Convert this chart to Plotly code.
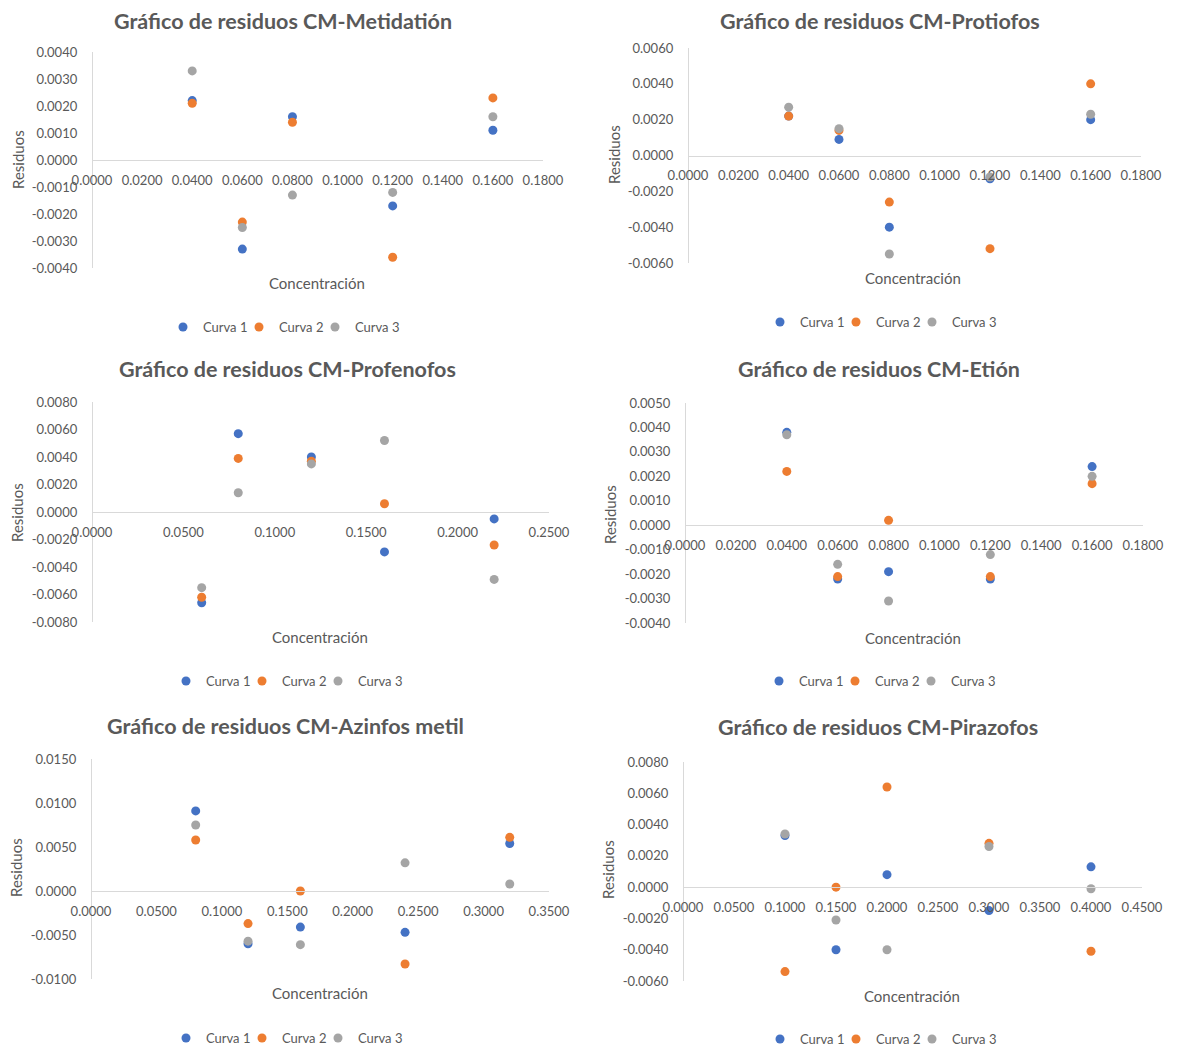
import plotly.graph_objects as go

W, H = 1178, 1048
PAGE_PAD = 8  # browser body margin in front of the plot div

BLUE = "#4472C4"
ORANGE = "#ED7D31"
GRAY = "#A5A5A5"
TXT = "#595959"
LINE = "#D9D9D9"
FONT = "Lato"

# --- data ------------------------------------------------------------------
METID_X = [0.04, 0.06, 0.08, 0.12, 0.16]
METID_C1 = [0.0022, -0.0033, 0.0016, -0.0017, 0.0011]
METID_C2 = [0.0021, -0.0023, 0.0014, -0.0036, 0.0023]
METID_C3 = [0.0033, -0.0025, -0.0013, -0.0012, 0.0016]
METID_XT = [0.0, 0.02, 0.04, 0.06, 0.08, 0.10, 0.12, 0.14, 0.16, 0.18]
METID_YT = [-0.004, -0.003, -0.002, -0.001, 0.0, 0.001, 0.002, 0.003, 0.004]

PROTI_X = [0.04, 0.06, 0.08, 0.12, 0.16]
PROTI_C1 = [0.0022, 0.0009, -0.0040, -0.0013, 0.0020]
PROTI_C2 = [0.0022, 0.0014, -0.0026, -0.0052, 0.0040]
PROTI_C3 = [0.0027, 0.0015, -0.0055, -0.0012, 0.0023]
PROTI_XT = [0.0, 0.02, 0.04, 0.06, 0.08, 0.10, 0.12, 0.14, 0.16, 0.18]
PROTI_YT = [-0.006, -0.004, -0.002, 0.0, 0.002, 0.004, 0.006]

PROFE_X = [0.06, 0.08, 0.12, 0.16, 0.22]
PROFE_C1 = [-0.0066, 0.0057, 0.0040, -0.0029, -0.0005]
PROFE_C2 = [-0.0062, 0.0039, 0.0037, 0.0006, -0.0024]
PROFE_C3 = [-0.0055, 0.0014, 0.0035, 0.0052, -0.0049]
PROFE_XT = [0.0, 0.05, 0.10, 0.15, 0.20, 0.25]
PROFE_YT = [-0.008, -0.006, -0.004, -0.002, 0.0, 0.002, 0.004, 0.006, 0.008]

ETION_X = [0.04, 0.06, 0.08, 0.12, 0.16]
ETION_C1 = [0.0038, -0.0022, -0.0019, -0.0022, 0.0024]
ETION_C2 = [0.0022, -0.0021, 0.0002, -0.0021, 0.0017]
ETION_C3 = [0.0037, -0.0016, -0.0031, -0.0012, 0.0020]
ETION_XT = [0.0, 0.02, 0.04, 0.06, 0.08, 0.10, 0.12, 0.14, 0.16, 0.18]
ETION_YT = [-0.004, -0.003, -0.002, -0.001, 0.0, 0.001, 0.002, 0.003, 0.004, 0.005]

AZINF_X = [0.08, 0.12, 0.16, 0.24, 0.32]
AZINF_C1 = [0.0091, -0.0060, -0.0041, -0.0047, 0.0054]
AZINF_C2 = [0.0058, -0.0037, 0.0000, -0.0083, 0.0061]
AZINF_C3 = [0.0075, -0.0057, -0.0061, 0.0032, 0.0008]
AZINF_XT = [0.0, 0.05, 0.10, 0.15, 0.20, 0.25, 0.30, 0.35]
AZINF_YT = [-0.010, -0.005, 0.0, 0.005, 0.010, 0.015]

PIRAZ_X = [0.10, 0.15, 0.20, 0.30, 0.40]
PIRAZ_C1 = [0.0033, -0.0040, 0.0008, -0.0015, 0.0013]
PIRAZ_C2 = [-0.0054, 0.0000, 0.0064, 0.0028, -0.0041]
PIRAZ_C3 = [0.0034, -0.0021, -0.0040, 0.0026, -0.0001]
PIRAZ_XT = [0.0, 0.05, 0.10, 0.15, 0.20, 0.25, 0.30, 0.35, 0.40, 0.45]
PIRAZ_YT = [-0.006, -0.004, -0.002, 0.0, 0.002, 0.004, 0.006, 0.008]

SERIES = ["Curva 1", "Curva 2", "Curva 3"]
COLORS = [BLUE, ORANGE, GRAY]

# box: plot x0/x1, y0(top)/y1(bottom), title, y-title, x-title and legend centres
PANELS = [
    ("Gráfico de residuos CM-Metidatión", METID_X, [METID_C1, METID_C2, METID_C3],
     METID_XT, METID_YT,
     dict(px=(92, 543), py=(52, 268), t=(283, 21), yt=(18, 160), xt=(317, 283), lg=(284, 327))),
    ("Gráfico de residuos CM-Protiofos", PROTI_X, [PROTI_C1, PROTI_C2, PROTI_C3],
     PROTI_XT, PROTI_YT,
     dict(px=(688, 1141), py=(48, 263), t=(880, 21), yt=(614, 155), xt=(913, 278), lg=(881, 322))),
    ("Gráfico de residuos CM-Profenofos", PROFE_X, [PROFE_C1, PROFE_C2, PROFE_C3],
     PROFE_XT, PROFE_YT,
     dict(px=(92, 549), py=(402, 622), t=(287, 369), yt=(17, 513), xt=(320, 637), lg=(287, 681))),
    ("Gráfico de residuos CM-Etión", ETION_X, [ETION_C1, ETION_C2, ETION_C3],
     ETION_XT, ETION_YT,
     dict(px=(685, 1143), py=(403, 623), t=(879, 369), yt=(610, 515), xt=(913, 638), lg=(880, 681))),
    ("Gráfico de residuos CM-Azinfos metil", AZINF_X, [AZINF_C1, AZINF_C2, AZINF_C3],
     AZINF_XT, AZINF_YT,
     dict(px=(91, 549), py=(759, 979), t=(285, 726), yt=(16, 868), xt=(320, 993), lg=(287, 1038))),
    ("Gráfico de residuos CM-Pirazofos", PIRAZ_X, [PIRAZ_C1, PIRAZ_C2, PIRAZ_C3],
     PIRAZ_XT, PIRAZ_YT,
     dict(px=(683, 1142), py=(762, 981), t=(878, 727), yt=(608, 870), xt=(912, 996), lg=(881, 1039))),
]
LEGEND_PITCH = 76  # px between legend entries, as in the Excel legends


def fx(px):
    return (px - PAGE_PAD) / W


def fy(py):
    return 1 - (py - PAGE_PAD) / H


fig = go.Figure()
annotations = []
layout = {}
legend_no = 0

for i, (title, xs, curves, xt, yt, box) in enumerate(PANELS, start=1):
    sfx = "" if i == 1 else str(i)
    xdom = [fx(box["px"][0]), fx(box["px"][1])]
    ydom = [fy(box["py"][1]), fy(box["py"][0])]
    ymin, ymax = yt[0], yt[-1]
    # paper position of the y=0 line, where Excel draws the category axis
    zero_pos = ydom[0] + (0 - ymin) / (ymax - ymin) * (ydom[1] - ydom[0])

    for k, (name, vals, col) in enumerate(zip(SERIES, curves, COLORS)):
        legend_no += 1
        legend_name = "legend" if legend_no == 1 else f"legend{legend_no}"
        fig.add_trace(go.Scatter(
            x=xs, y=vals, mode="markers", name=name,
            marker=dict(color=col, size=9),
            xaxis=f"x{sfx}", yaxis=f"y{sfx}",
            legend=legend_name, showlegend=True, cliponaxis=False,
        ))
        # one legend box per entry so the entries sit at Excel's spacing
        layout[legend_name] = dict(
            orientation="h",
            x=fx(box["lg"][0] + (k - 1) * LEGEND_PITCH), y=fy(box["lg"][1]),
            xanchor="center", yanchor="middle",
            font=dict(family=FONT, size=13, color=TXT),
            itemwidth=30, bgcolor="rgba(0,0,0,0)",
        )

    layout[f"xaxis{sfx}"] = dict(
        domain=xdom, range=[xt[0], xt[-1]], anchor="free", position=zero_pos,
        tickvals=xt, ticktext=[f"{v:.4f}" for v in xt],
        showline=True, linecolor=LINE, linewidth=1.3, showgrid=False, zeroline=False,
        ticks="", ticklabelstandoff=8,
        tickfont=dict(family=FONT, size=13, color=TXT),
    )
    layout[f"yaxis{sfx}"] = dict(
        domain=ydom, range=[ymin, ymax], anchor="free", position=xdom[0],
        tickvals=yt, ticktext=[f"{v:.4f}" for v in yt],
        showline=True, linecolor=LINE, linewidth=1.3, showgrid=False, zeroline=False,
        ticks="", ticklabelstandoff=12,
        tickfont=dict(family=FONT, size=13, color=TXT),
    )

    annotations.append(dict(
        text=f"<b>{title}</b>", x=fx(box["t"][0]), y=fy(box["t"][1]),
        xref="paper", yref="paper", showarrow=False,
        xanchor="center", yanchor="middle", borderpad=0,
        font=dict(family=FONT, size=21.5, color=TXT),
    ))
    annotations.append(dict(
        text="Residuos", x=fx(box["yt"][0]), y=fy(box["yt"][1]), textangle=-90,
        xref="paper", yref="paper", showarrow=False,
        xanchor="center", yanchor="middle",
        font=dict(family=FONT, size=15, color=TXT),
    ))
    annotations.append(dict(
        text="Concentración", x=fx(box["xt"][0]), y=fy(box["xt"][1]),
        xref="paper", yref="paper", showarrow=False,
        xanchor="center", yanchor="middle",
        font=dict(family=FONT, size=15, color=TXT),
    ))

fig.update_layout(
    width=W, height=H,
    margin=dict(l=0, r=0, t=0, b=0, autoexpand=False),
    paper_bgcolor="white", plot_bgcolor="white",
    showlegend=True,
    annotations=annotations,
    **layout,
)

fig.write_html("out.html")
